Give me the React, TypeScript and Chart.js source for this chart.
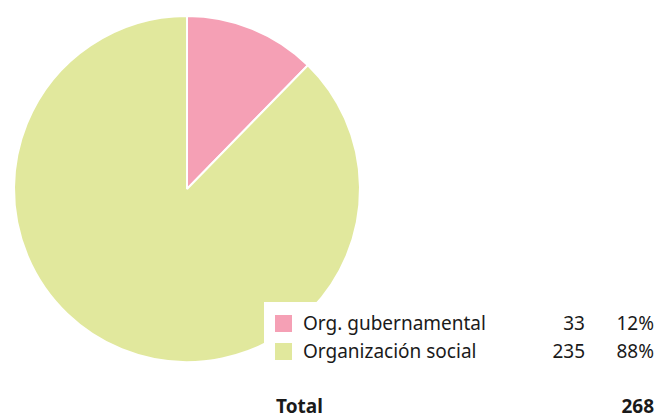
import React, { useEffect, useRef } from "react";
import { Chart, registerables } from "chart.js";

Chart.register(...registerables);

const categories = ["Org. gubernamental", "Organización social"];
const values = [33, 235];
const percents = ["12%", "88%"];
const totalLabel = "Total";
const totalValue = "268";
const colors = ["#f5a0b5", "#e1e89d"];

export default function App() {
  const ref = useRef<HTMLCanvasElement>(null);
  useEffect(() => {
    document.body.style.margin = "0";
    const chart = new Chart(ref.current!, {
      type: "pie",
      data: {
        labels: categories,
        datasets: [
          {
            data: values,
            backgroundColor: colors,
            borderColor: "#ffffff",
            borderWidth: 2,
          },
        ],
      },
      options: {
        animation: false,
        responsive: false,
        maintainAspectRatio: false,
        layout: { padding: { top: 15, bottom: 51, left: 13, right: 297 } },
        plugins: { legend: { display: false }, tooltip: { enabled: false } },
      },
    });
    return () => chart.destroy();
  }, []);

  const font = "'Noto Sans', sans-serif";
  return (
    <div style={{ position: "relative", width: 658, height: 414, overflow: "hidden", fontFamily: font }}>
      <canvas ref={ref} width={658} height={414} style={{ position: "absolute", left: 0, top: 0 }} />
      <div style={{ position: "absolute", left: 264, top: 302, width: 394, height: 112, background: "#fff" }}>
        {categories.map((c, i) => (
          <div key={c} style={{ position: "absolute", left: 0, top: 8 + i * 28, width: 394, height: 26, fontSize: 19, color: "#1a1a1a", lineHeight: "26px" }}>
            <span style={{ position: "absolute", left: 11, top: 5, width: 17, height: 17, background: colors[i] }} />
            <span style={{ position: "absolute", left: 39, top: 0 }}>{c}</span>
            <span style={{ position: "absolute", right: 73, top: 0 }}>{values[i]}</span>
            <span style={{ position: "absolute", right: 4, top: 0 }}>{percents[i]}</span>
          </div>
        ))}
        <div style={{ position: "absolute", left: 0, top: 91, width: 394, height: 26, fontSize: 19, fontWeight: "bold", color: "#1a1a1a", lineHeight: "26px" }}>
          <span style={{ position: "absolute", left: 12, top: 0 }}>{totalLabel}</span>
          <span style={{ position: "absolute", right: 4, top: 0 }}>{totalValue}</span>
        </div>
      </div>
    </div>
  );
}
